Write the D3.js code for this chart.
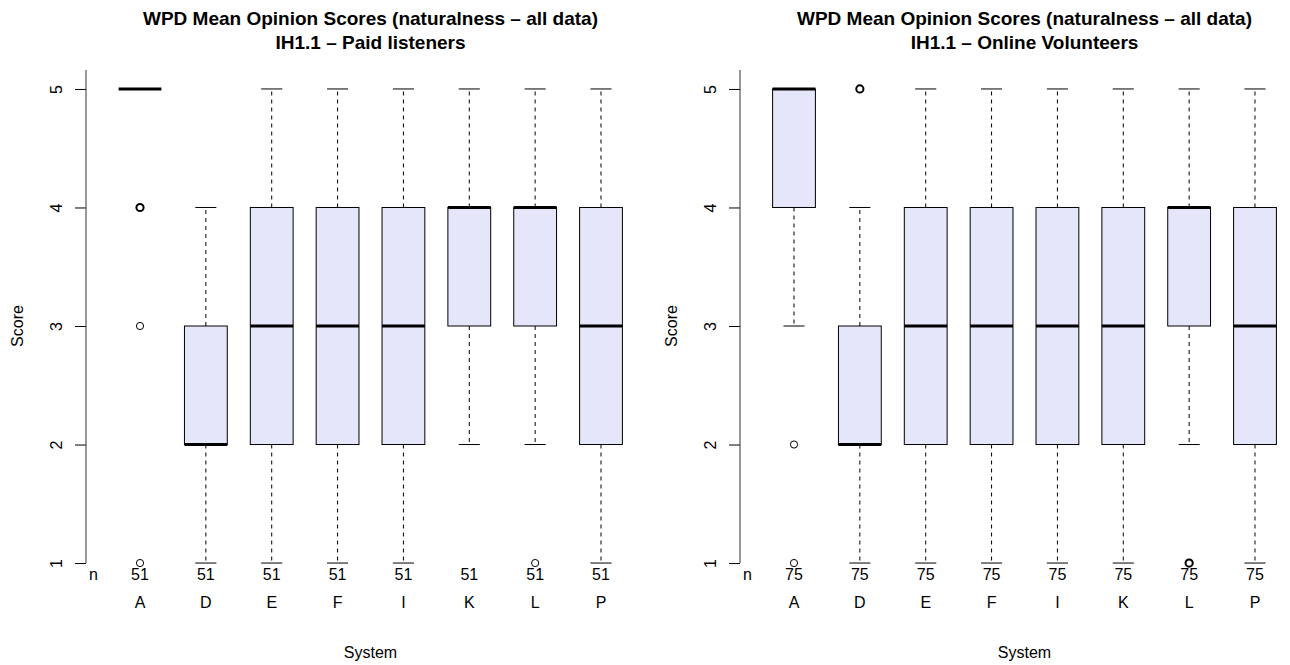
<!DOCTYPE html>
<html>
<head>
<meta charset="utf-8">
<script src="https://cdn.jsdelivr.net/npm/d3@7"></script>
<style>
  body { margin: 0; background: #fff; }
  svg { font-family: "Liberation Sans", Arial, sans-serif; }
</style>
</head>
<body>
<div id="chart-area"></div>
<script>
// categories and tick labels
var systems = ["A", "D", "E", "F", "I", "K", "L", "P"];
var yTicks = [1, 2, 3, 4, 5];

// Paid listeners
var paidN = [51, 51, 51, 51, 51, 51, 51, 51];
var paidLo = [5, 1, 1, 1, 1, 2, 2, 1];
var paidQ1 = [5, 2, 2, 2, 2, 3, 3, 2];
var paidMed = [5, 2, 3, 3, 3, 4, 4, 3];
var paidQ3 = [5, 3, 4, 4, 4, 4, 4, 4];
var paidHi = [5, 4, 5, 5, 5, 5, 5, 5];
var paidOut = [[4, 4, 4, 3, 1], [], [], [], [], [], [1], []];

// Online volunteers
var volN = [75, 75, 75, 75, 75, 75, 75, 75];
var volLo = [3, 1, 1, 1, 1, 1, 2, 1];
var volQ1 = [4, 2, 2, 2, 2, 2, 3, 2];
var volMed = [5, 2, 3, 3, 3, 3, 4, 3];
var volQ3 = [5, 3, 4, 4, 4, 4, 4, 4];
var volHi = [5, 4, 5, 5, 5, 5, 5, 5];
var volOut = [[2, 1], [5, 5, 5], [], [], [], [], [1, 1, 1], []];

var W = 1290, H = 665;
var svg = d3.select("#chart-area").append("svg")
    .attr("width", W)
    .attr("height", H);

var fill = "#E6E6FA";
var fs = "16px";

function panel(left, subtitle, n, lo, q1, med, q3, hi, out) {
    var g = svg.append("g");
    // plot region, R style: xlim 0.5..8.5 extended 4%
    var x = d3.scaleLinear()
        .domain([0.18, 8.82])
        .range([left, left + 569]);
    var y = d3.scaleLinear()
        .domain([0.84, 5.16])
        .range([582, 70]);
    var bw = 0.325, cw = 0.16;
    var cx = function(i) { return x(i + 1); };

    // titles
    var mid = (x.range()[0] + x.range()[1]) / 2;
    g.append("text")
        .attr("x", mid).attr("y", 25)
        .attr("text-anchor", "middle")
        .attr("font-size", "19px").attr("font-weight", "bold")
        .text("WPD Mean Opinion Scores (naturalness \u2013 all data)");
    g.append("text")
        .attr("x", mid).attr("y", 49)
        .attr("text-anchor", "middle")
        .attr("font-size", "19px").attr("font-weight", "bold")
        .text(subtitle);

    // y axis
    var yAxis = d3.axisLeft(y)
        .tickValues(yTicks)
        .tickSize(11)
        .tickSizeOuter(0)
        .tickFormat(d3.format("d"));
    var yg = g.append("g")
        .attr("transform", "translate(" + left + ",0)")
        .call(yAxis);
    yg.select(".domain").remove();
    yg.selectAll("line").attr("stroke", "#000");
    yg.selectAll("text")
        .attr("transform", "rotate(-90)")
        .attr("x", 0).attr("y", -24).attr("dy", 0)
        .attr("text-anchor", "middle")
        .attr("font-size", fs)
        .attr("font-family", "Liberation Sans, Arial, sans-serif")
        .attr("fill", "#000");
    g.append("line")
        .attr("x1", left).attr("x2", left)
        .attr("y1", y(5.16)).attr("y2", y(1))
        .attr("stroke", "#333").attr("stroke-width", 1);

    g.append("text")
        .attr("transform", "translate(" + (left - 63) + "," + y(3) + ") rotate(-90)")
        .attr("text-anchor", "middle")
        .attr("font-size", fs)
        .text("Score");

    // whiskers
    var wg = g.append("g").attr("stroke", "#000").attr("stroke-width", 1);
    systems.forEach(function(s, i) {
        if (hi[i] > q3[i]) {
            wg.append("line")
                .attr("x1", cx(i)).attr("x2", cx(i))
                .attr("y1", y(q3[i])).attr("y2", y(hi[i]))
                .attr("stroke-dasharray", "4,4");
            wg.append("line")
                .attr("x1", x(i + 1 - cw)).attr("x2", x(i + 1 + cw))
                .attr("y1", y(hi[i])).attr("y2", y(hi[i]));
        }
        if (lo[i] < q1[i]) {
            wg.append("line")
                .attr("x1", cx(i)).attr("x2", cx(i))
                .attr("y1", y(q1[i])).attr("y2", y(lo[i]))
                .attr("stroke-dasharray", "4,4");
            wg.append("line")
                .attr("x1", x(i + 1 - cw)).attr("x2", x(i + 1 + cw))
                .attr("y1", y(lo[i])).attr("y2", y(lo[i]));
        }
    });

    // boxes
    g.selectAll("rect.box").data(systems).enter()
        .append("rect")
        .attr("class", "box")
        .attr("x", function(d, i) { return x(i + 1 - bw); })
        .attr("y", function(d, i) { return y(q3[i]); })
        .attr("width", function(d, i) { return x(i + 1 + bw) - x(i + 1 - bw); })
        .attr("height", function(d, i) { return y(q1[i]) - y(q3[i]); })
        .attr("fill", fill)
        .attr("stroke", "#000")
        .attr("stroke-width", 1);

    // medians
    g.selectAll("line.med").data(systems).enter()
        .append("line")
        .attr("class", "med")
        .attr("x1", function(d, i) { return x(i + 1 - bw); })
        .attr("x2", function(d, i) { return x(i + 1 + bw); })
        .attr("y1", function(d, i) { return y(med[i]); })
        .attr("y2", function(d, i) { return y(med[i]); })
        .attr("stroke", "#000")
        .attr("stroke-width", 3);

    // outliers (repeated values drawn heavier)
    systems.forEach(function(s, i) {
        var counts = d3.rollups(out[i], function(v) { return v.length; }, function(d) { return d; });
        counts.forEach(function(c) {
            g.append("circle")
                .attr("cx", cx(i))
                .attr("cy", y(c[0]))
                .attr("r", 3.6)
                .attr("fill", "none")
                .attr("stroke", "#000")
                .attr("stroke-width", c[1] > 1 ? 2 : 1);
        });
    });

    // n row and category labels
    g.append("text")
        .attr("x", left + 3).attr("y", 580)
        .attr("font-size", fs)
        .text("n");
    g.selectAll("text.n").data(n).enter()
        .append("text")
        .attr("class", "n")
        .attr("x", function(d, i) { return cx(i); })
        .attr("y", 580)
        .attr("text-anchor", "middle")
        .attr("font-size", fs)
        .text(function(d) { return d; });
    g.selectAll("text.cat").data(systems).enter()
        .append("text")
        .attr("class", "cat")
        .attr("x", function(d, i) { return cx(i); })
        .attr("y", 608)
        .attr("text-anchor", "middle")
        .attr("font-size", fs)
        .text(function(d) { return d; });
    g.append("text")
        .attr("x", mid).attr("y", 658)
        .attr("text-anchor", "middle")
        .attr("font-size", fs)
        .text("System");
}

panel(86, "IH1.1 \u2013 Paid listeners", paidN, paidLo, paidQ1, paidMed, paidQ3, paidHi, paidOut);
panel(740, "IH1.1 \u2013 Online Volunteers", volN, volLo, volQ1, volMed, volQ3, volHi, volOut);
</script>
</body>
</html>
